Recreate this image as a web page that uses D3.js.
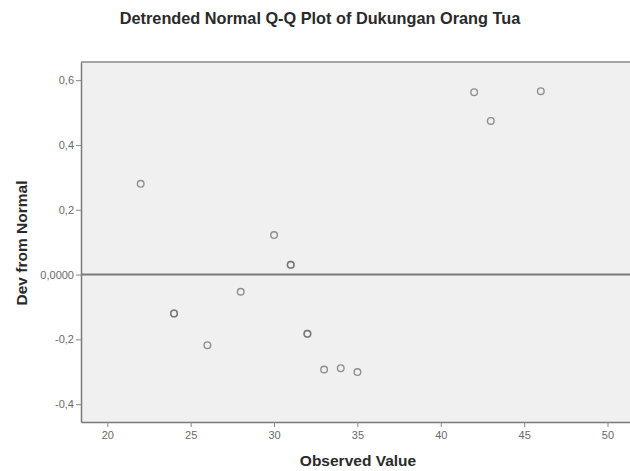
<!DOCTYPE html>
<html>
<head>
<meta charset="utf-8">
<script src="https://cdn.jsdelivr.net/npm/d3@7"></script>
<style>
  html, body { margin: 0; padding: 0; background: #fff; }
  svg { display: block; }
</style>
</head>
<body>
<svg id="chart" width="630" height="471"></svg>
<script>
// Data (observed values, with ties repeated)
const observed   = [22,   24,    24,    26,    28,    30,   31,   31,   32,    32,    33,    34,    35,    42,   43,   46];
const deviations = [0.28, -0.12, -0.12, -0.218, -0.053, 0.122, 0.03, 0.03, -0.183, -0.183, -0.293, -0.289, -0.301, 0.563, 0.474, 0.566];
const xTicks = [20, 25, 30, 35, 40, 45, 50];
const yTicks = [0.6, 0.4, 0.2, 0, -0.2, -0.4];
const yTickLabels = ["0,6", "0,4", "0,2", "0,0000", "-0,2", "-0,4"];
const titleText = "Detrended Normal Q-Q Plot of Dukungan Orang Tua";
const xTitle = "Observed Value";
const yTitle = "Dev from Normal";

const svg = d3.select("#chart");
const pLeft = 81, pRight = 630, pTop = 62, pBottom = 422;

const x = d3.scaleLinear().domain([18.42, 51.35]).range([pLeft, pRight]);
const y = d3.scaleLinear().domain([-0.455, 0.656]).range([pBottom, pTop]);

// Title
svg.append("text")
  .attr("x", 320).attr("y", 24)
  .attr("text-anchor", "middle")
  .attr("font-family", "Liberation Sans, Arial, sans-serif")
  .attr("font-size", 16.3)
  .attr("font-weight", "bold")
  .attr("fill", "#2a2a2a")
  .text(titleText);

// Plot background
svg.append("rect")
  .attr("x", pLeft).attr("y", pTop)
  .attr("width", pRight - pLeft).attr("height", pBottom - pTop)
  .attr("fill", "#f0f0f0");

// Top border
svg.append("line")
  .attr("x1", pLeft).attr("x2", pRight)
  .attr("y1", pTop).attr("y2", pTop)
  .attr("stroke", "#8a8a8a").attr("stroke-width", 1.5);

// Reference line at 0
svg.append("line")
  .attr("x1", pLeft).attr("x2", pRight)
  .attr("y1", y(0)).attr("y2", y(0))
  .attr("stroke", "#7a7a7a").attr("stroke-width", 2);

// Axes
const xAxis = d3.axisBottom(x).tickValues(xTicks).tickSize(5).tickSizeOuter(0).tickFormat(d3.format("d"));
const yAxis = d3.axisLeft(y).tickValues(yTicks).tickSize(5).tickSizeOuter(0)
  .tickFormat((d, i) => yTickLabels[i]);

const gx = svg.append("g").attr("transform", `translate(0,${pBottom})`).call(xAxis);
const gy = svg.append("g").attr("transform", `translate(${pLeft},0)`).call(yAxis);

[gx, gy].forEach(g => {
  g.select(".domain").attr("stroke", "#7a7a7a").attr("stroke-width", 1.5);
  g.selectAll(".tick line").attr("stroke", "#888");
  g.selectAll(".tick text")
    .attr("font-family", "Liberation Sans, Arial, sans-serif")
    .attr("font-size", 11)
    .attr("fill", "#6a6a6a");
});
gx.selectAll(".tick text").attr("dy", "0.85em");
gy.selectAll(".tick text").attr("x", -7);

// Points
svg.append("g").selectAll("circle")
  .data(observed.map((v, i) => ({ v, d: deviations[i] })))
  .join("circle")
  .attr("cx", p => x(p.v))
  .attr("cy", p => y(p.d))
  .attr("r", 3.3)
  .attr("fill", "none")
  .attr("stroke", "#6e6e6e")
  .attr("stroke-opacity", 0.75)
  .attr("stroke-width", 1.4);

// Axis titles
svg.append("text")
  .attr("x", 358).attr("y", 466)
  .attr("text-anchor", "middle")
  .attr("font-family", "Liberation Sans, Arial, sans-serif")
  .attr("font-size", 15.5)
  .attr("font-weight", "bold")
  .attr("fill", "#2a2a2a")
  .text(xTitle);

svg.append("text")
  .attr("transform", "translate(27,243) rotate(-90)")
  .attr("text-anchor", "middle")
  .attr("font-family", "Liberation Sans, Arial, sans-serif")
  .attr("font-size", 15.5)
  .attr("font-weight", "bold")
  .attr("fill", "#2a2a2a")
  .text(yTitle);
</script>
</body>
</html>
